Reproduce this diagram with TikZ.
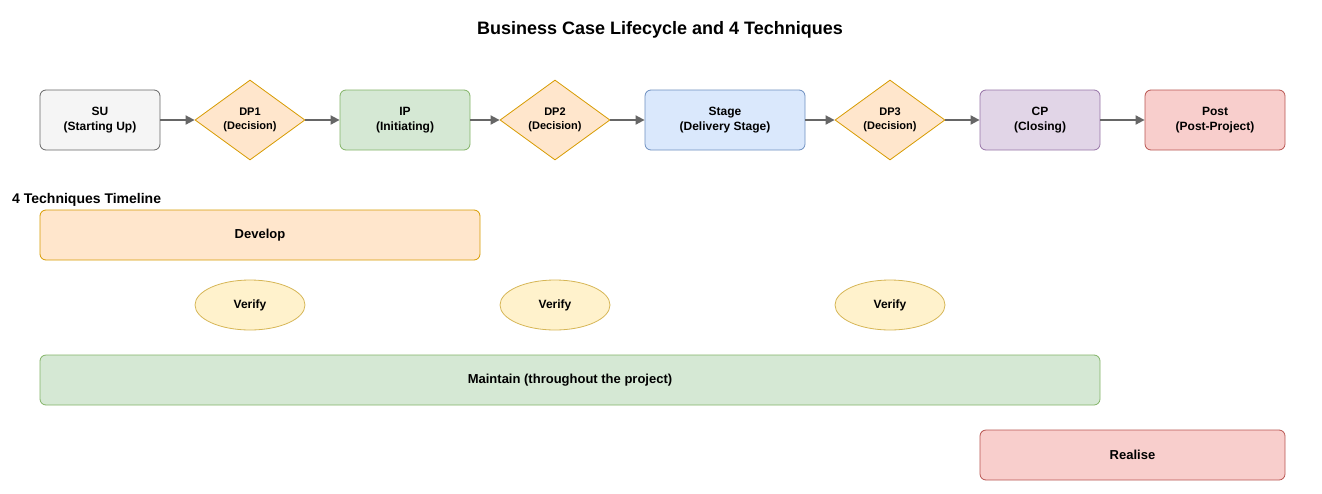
\documentclass[tikz,border=0pt]{standalone}
\usepackage{fontspec}
\setmainfont{Liberation Sans}
\usetikzlibrary{shapes.geometric,arrows.meta}
\definecolor{grayF}{HTML}{F5F5F5}\definecolor{grayS}{HTML}{666666}
\definecolor{orF}{HTML}{FFE6CC}\definecolor{orS}{HTML}{D79B00}
\definecolor{grF}{HTML}{D5E8D4}\definecolor{grS}{HTML}{82B366}
\definecolor{blF}{HTML}{DAE8FC}\definecolor{blS}{HTML}{6C8EBF}
\definecolor{puF}{HTML}{E1D5E7}\definecolor{puS}{HTML}{9673A6}
\definecolor{reF}{HTML}{F8CECC}\definecolor{reS}{HTML}{B85450}
\definecolor{yeF}{HTML}{FFF2CC}\definecolor{yeS}{HTML}{D6B656}
\tikzset{
  box/.style={draw, rounded corners=6pt, line width=0.8pt, inner sep=0pt, align=center,
    font=\fontsize{12}{15}\selectfont\bfseries},
  bar/.style={box, minimum height=50pt, font=\fontsize{13}{15}\selectfont\bfseries},
  dec/.style={draw=orS, fill=orF, diamond, line width=0.8pt, inner sep=0pt, align=center,
    minimum width=110pt, minimum height=80pt, aspect=1.375, font=\fontsize{11}{14}\selectfont\bfseries},
  ver/.style={draw=yeS, fill=yeF, ellipse, line width=0.8pt, inner sep=0pt,
    minimum width=110pt, minimum height=50pt, font=\fontsize{12}{14}\selectfont\bfseries},
  flow/.style={draw=grayS, line width=1.8pt, -{Triangle[length=9pt,width=9pt]}},
}
\begin{document}
\begin{tikzpicture}[x=1pt,y=-1pt]
\useasboundingbox (0,0) rectangle (1322,493);
\node[font=\fontsize{18}{20}\selectfont\bfseries] (title) at (660,30) {Business Case Lifecycle and 4 Techniques};
\node[box, draw=grayS, fill=grayF, minimum width=120pt, minimum height=60pt] (su) at (100,120) {SU\\(Starting Up)};
\node[dec] (dp1) at (250,120) {DP1\\(Decision)};
\node[box, draw=grS, fill=grF, minimum width=130pt, minimum height=60pt] (ip) at (405,120) {IP\\(Initiating)};
\node[dec] (dp2) at (555,120) {DP2\\(Decision)};
\node[box, draw=blS, fill=blF, minimum width=160pt, minimum height=60pt] (st) at (725,120) {Stage\\(Delivery Stage)};
\node[dec] (dp3) at (890,120) {DP3\\(Decision)};
\node[box, draw=puS, fill=puF, minimum width=120pt, minimum height=60pt] (cp) at (1040,120) {CP\\(Closing)};
\node[box, draw=reS, fill=reF, minimum width=140pt, minimum height=60pt] (post) at (1215,120) {Post\\(Post-Project)};
\draw[flow] (su) -- (dp1);
\draw[flow] (dp1) -- (ip);
\draw[flow] (ip) -- (dp2);
\draw[flow] (dp2) -- (st);
\draw[flow] (st) -- (dp3);
\draw[flow] (dp3) -- (cp);
\draw[flow] (cp) -- (post);
\node[anchor=west, font=\fontsize{14}{16}\selectfont\bfseries, inner sep=0pt] (tl) at (12,200) {4 Techniques Timeline};
\node[bar, draw=orS, fill=orF, minimum width=440pt] (dev) at (260,235) {Develop};
\node[ver] (v1) at (250,305) {Verify};
\node[ver] (v2) at (555,305) {Verify};
\node[ver] (v3) at (890,305) {Verify};
\node[bar, draw=grS, fill=grF, minimum width=1060pt] (mt) at (570,380) {Maintain (throughout the project)};
\node[bar, draw=reS, fill=reF, minimum width=305pt] (re) at (1132.5,455) {Realise};
\end{tikzpicture}
\end{document}
